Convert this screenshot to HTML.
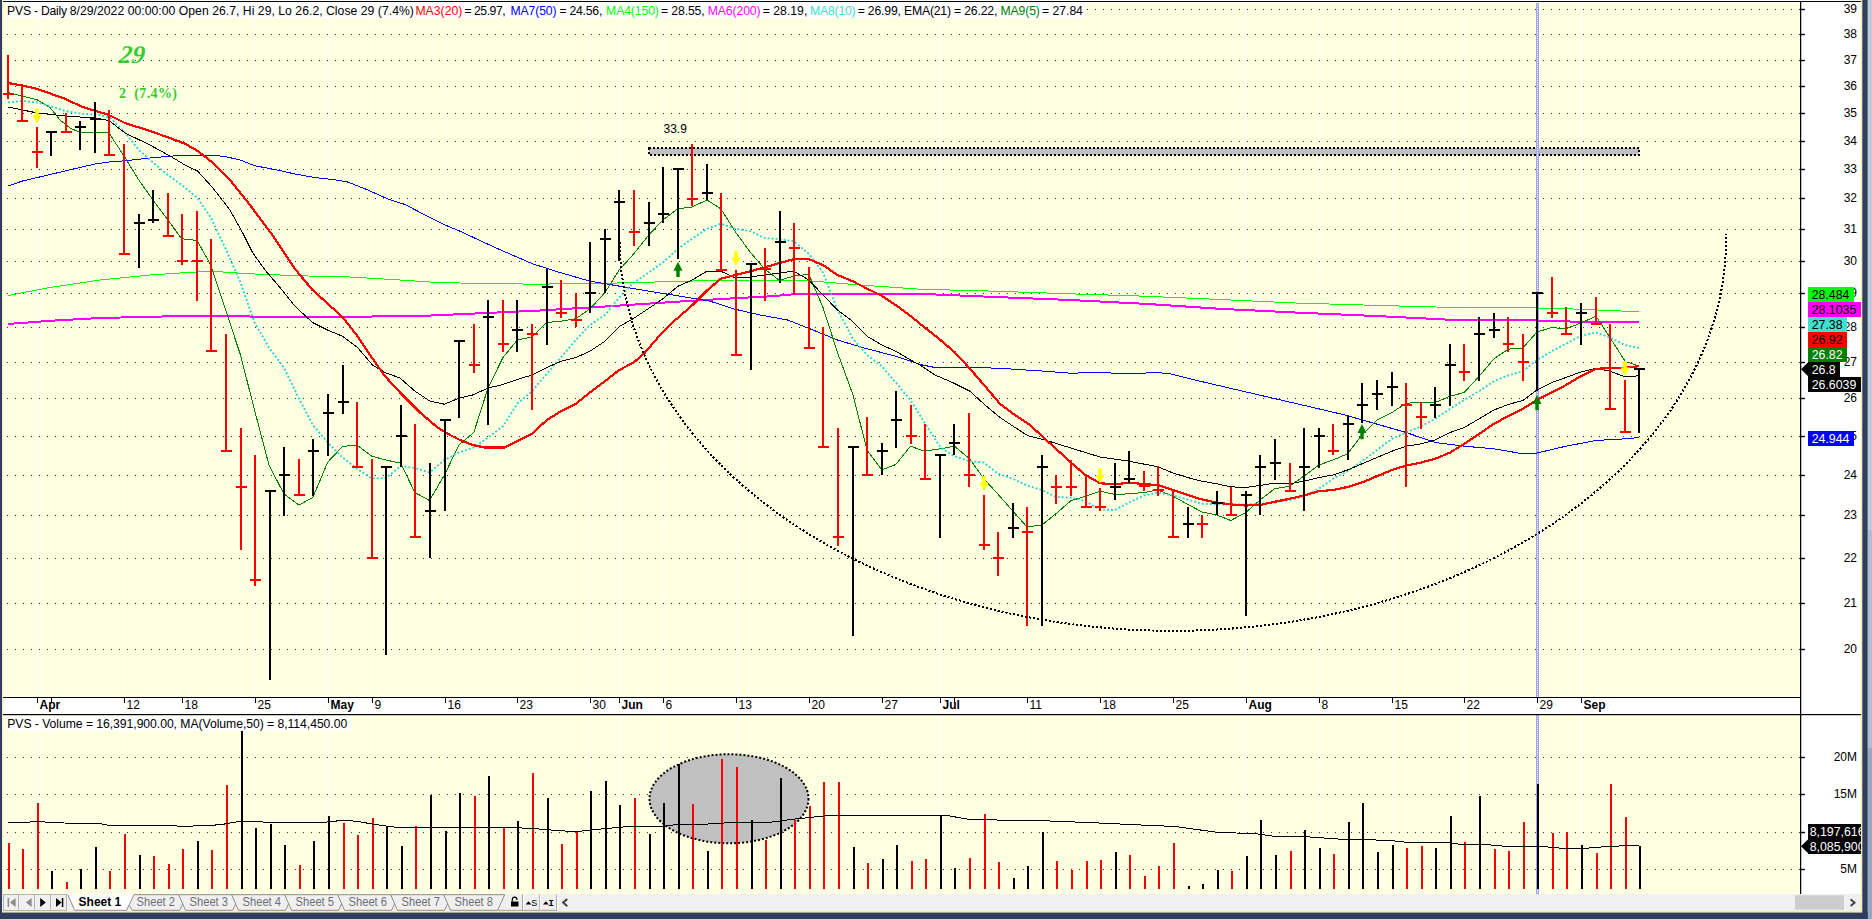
<!DOCTYPE html>
<html><head><meta charset="utf-8"><title>PVS</title>
<style>
html,body{margin:0;padding:0;background:#FFFFE1;overflow:hidden}
body{width:1872px;height:919px;position:relative;font-family:"Liberation Sans",sans-serif}
svg{position:absolute;left:0;top:0}
text{font-family:"Liberation Sans",sans-serif;font-size:12px}
.ser{font-family:"Liberation Serif",serif}
</style></head><body>
<svg width="1872" height="919" viewBox="0 0 1872 919">
<rect x="0" y="0" width="1872" height="919" fill="#FFFFE1"/>
<rect x="3" y="0" width="1" height="894" fill="#FFFFFF"/>
<rect x="1801" y="1" width="60.5" height="893" fill="#FFFFFF"/>
<rect x="3" y="698" width="1798" height="16.5" fill="#FFFFFF"/>
<g shape-rendering="crispEdges">
<rect x="37" y="3" width="1" height="694" fill="#FFFFFF"/>
<rect x="37" y="715" width="1" height="178" fill="#FFFFFF"/>
<line x1="51.5" y1="3" x2="51.5" y2="697" stroke="#FFFFFF" stroke-width="1" stroke-dasharray="1 1"/>
<line x1="51.5" y1="715" x2="51.5" y2="893" stroke="#FFFFFF" stroke-width="1" stroke-dasharray="1 1"/>
<line x1="124.5" y1="3" x2="124.5" y2="697" stroke="#FFFFFF" stroke-width="1" stroke-dasharray="1 1"/>
<line x1="124.5" y1="715" x2="124.5" y2="893" stroke="#FFFFFF" stroke-width="1" stroke-dasharray="1 1"/>
<line x1="182.5" y1="3" x2="182.5" y2="697" stroke="#FFFFFF" stroke-width="1" stroke-dasharray="1 1"/>
<line x1="182.5" y1="715" x2="182.5" y2="893" stroke="#FFFFFF" stroke-width="1" stroke-dasharray="1 1"/>
<line x1="255.5" y1="3" x2="255.5" y2="697" stroke="#FFFFFF" stroke-width="1" stroke-dasharray="1 1"/>
<line x1="255.5" y1="715" x2="255.5" y2="893" stroke="#FFFFFF" stroke-width="1" stroke-dasharray="1 1"/>
<rect x="328" y="3" width="1" height="694" fill="#FFFFFF"/>
<rect x="328" y="715" width="1" height="178" fill="#FFFFFF"/>
<line x1="372.5" y1="3" x2="372.5" y2="697" stroke="#FFFFFF" stroke-width="1" stroke-dasharray="1 1"/>
<line x1="372.5" y1="715" x2="372.5" y2="893" stroke="#FFFFFF" stroke-width="1" stroke-dasharray="1 1"/>
<line x1="445.5" y1="3" x2="445.5" y2="697" stroke="#FFFFFF" stroke-width="1" stroke-dasharray="1 1"/>
<line x1="445.5" y1="715" x2="445.5" y2="893" stroke="#FFFFFF" stroke-width="1" stroke-dasharray="1 1"/>
<line x1="517.5" y1="3" x2="517.5" y2="697" stroke="#FFFFFF" stroke-width="1" stroke-dasharray="1 1"/>
<line x1="517.5" y1="715" x2="517.5" y2="893" stroke="#FFFFFF" stroke-width="1" stroke-dasharray="1 1"/>
<line x1="590.5" y1="3" x2="590.5" y2="697" stroke="#FFFFFF" stroke-width="1" stroke-dasharray="1 1"/>
<line x1="590.5" y1="715" x2="590.5" y2="893" stroke="#FFFFFF" stroke-width="1" stroke-dasharray="1 1"/>
<rect x="619" y="3" width="1" height="694" fill="#FFFFFF"/>
<rect x="619" y="715" width="1" height="178" fill="#FFFFFF"/>
<line x1="663.5" y1="3" x2="663.5" y2="697" stroke="#FFFFFF" stroke-width="1" stroke-dasharray="1 1"/>
<line x1="663.5" y1="715" x2="663.5" y2="893" stroke="#FFFFFF" stroke-width="1" stroke-dasharray="1 1"/>
<line x1="736.5" y1="3" x2="736.5" y2="697" stroke="#FFFFFF" stroke-width="1" stroke-dasharray="1 1"/>
<line x1="736.5" y1="715" x2="736.5" y2="893" stroke="#FFFFFF" stroke-width="1" stroke-dasharray="1 1"/>
<line x1="809.5" y1="3" x2="809.5" y2="697" stroke="#FFFFFF" stroke-width="1" stroke-dasharray="1 1"/>
<line x1="809.5" y1="715" x2="809.5" y2="893" stroke="#FFFFFF" stroke-width="1" stroke-dasharray="1 1"/>
<line x1="882.5" y1="3" x2="882.5" y2="697" stroke="#FFFFFF" stroke-width="1" stroke-dasharray="1 1"/>
<line x1="882.5" y1="715" x2="882.5" y2="893" stroke="#FFFFFF" stroke-width="1" stroke-dasharray="1 1"/>
<rect x="940" y="3" width="1" height="694" fill="#FFFFFF"/>
<rect x="940" y="715" width="1" height="178" fill="#FFFFFF"/>
<line x1="954.5" y1="3" x2="954.5" y2="697" stroke="#FFFFFF" stroke-width="1" stroke-dasharray="1 1"/>
<line x1="954.5" y1="715" x2="954.5" y2="893" stroke="#FFFFFF" stroke-width="1" stroke-dasharray="1 1"/>
<line x1="1027.5" y1="3" x2="1027.5" y2="697" stroke="#FFFFFF" stroke-width="1" stroke-dasharray="1 1"/>
<line x1="1027.5" y1="715" x2="1027.5" y2="893" stroke="#FFFFFF" stroke-width="1" stroke-dasharray="1 1"/>
<line x1="1100.5" y1="3" x2="1100.5" y2="697" stroke="#FFFFFF" stroke-width="1" stroke-dasharray="1 1"/>
<line x1="1100.5" y1="715" x2="1100.5" y2="893" stroke="#FFFFFF" stroke-width="1" stroke-dasharray="1 1"/>
<line x1="1173.5" y1="3" x2="1173.5" y2="697" stroke="#FFFFFF" stroke-width="1" stroke-dasharray="1 1"/>
<line x1="1173.5" y1="715" x2="1173.5" y2="893" stroke="#FFFFFF" stroke-width="1" stroke-dasharray="1 1"/>
<rect x="1246" y="3" width="1" height="694" fill="#FFFFFF"/>
<rect x="1246" y="715" width="1" height="178" fill="#FFFFFF"/>
<line x1="1319.5" y1="3" x2="1319.5" y2="697" stroke="#FFFFFF" stroke-width="1" stroke-dasharray="1 1"/>
<line x1="1319.5" y1="715" x2="1319.5" y2="893" stroke="#FFFFFF" stroke-width="1" stroke-dasharray="1 1"/>
<line x1="1392.5" y1="3" x2="1392.5" y2="697" stroke="#FFFFFF" stroke-width="1" stroke-dasharray="1 1"/>
<line x1="1392.5" y1="715" x2="1392.5" y2="893" stroke="#FFFFFF" stroke-width="1" stroke-dasharray="1 1"/>
<line x1="1464.5" y1="3" x2="1464.5" y2="697" stroke="#FFFFFF" stroke-width="1" stroke-dasharray="1 1"/>
<line x1="1464.5" y1="715" x2="1464.5" y2="893" stroke="#FFFFFF" stroke-width="1" stroke-dasharray="1 1"/>
<line x1="1537.5" y1="3" x2="1537.5" y2="697" stroke="#FFFFFF" stroke-width="1" stroke-dasharray="1 1"/>
<line x1="1537.5" y1="715" x2="1537.5" y2="893" stroke="#FFFFFF" stroke-width="1" stroke-dasharray="1 1"/>
<rect x="1581" y="3" width="1" height="694" fill="#FFFFFF"/>
<rect x="1581" y="715" width="1" height="178" fill="#FFFFFF"/>
<line x1="7" y1="9.5" x2="1800" y2="9.5" stroke="#303030" stroke-width="1" stroke-dasharray="1 7"/>
<line x1="7" y1="34.5" x2="1800" y2="34.5" stroke="#303030" stroke-width="1" stroke-dasharray="1 7"/>
<line x1="7" y1="60.5" x2="1800" y2="60.5" stroke="#303030" stroke-width="1" stroke-dasharray="1 7"/>
<line x1="7" y1="86.5" x2="1800" y2="86.5" stroke="#303030" stroke-width="1" stroke-dasharray="1 7"/>
<line x1="7" y1="113.5" x2="1800" y2="113.5" stroke="#303030" stroke-width="1" stroke-dasharray="1 7"/>
<line x1="7" y1="141.5" x2="1800" y2="141.5" stroke="#303030" stroke-width="1" stroke-dasharray="1 7"/>
<line x1="7" y1="169.5" x2="1800" y2="169.5" stroke="#303030" stroke-width="1" stroke-dasharray="1 7"/>
<line x1="7" y1="198.5" x2="1800" y2="198.5" stroke="#303030" stroke-width="1" stroke-dasharray="1 7"/>
<line x1="7" y1="229.5" x2="1800" y2="229.5" stroke="#303030" stroke-width="1" stroke-dasharray="1 7"/>
<line x1="7" y1="261.5" x2="1800" y2="261.5" stroke="#303030" stroke-width="1" stroke-dasharray="1 7"/>
<line x1="7" y1="293.5" x2="1800" y2="293.5" stroke="#303030" stroke-width="1" stroke-dasharray="1 7"/>
<line x1="7" y1="327.5" x2="1800" y2="327.5" stroke="#303030" stroke-width="1" stroke-dasharray="1 7"/>
<line x1="7" y1="362.5" x2="1800" y2="362.5" stroke="#303030" stroke-width="1" stroke-dasharray="1 7"/>
<line x1="7" y1="398.5" x2="1800" y2="398.5" stroke="#303030" stroke-width="1" stroke-dasharray="1 7"/>
<line x1="7" y1="436.5" x2="1800" y2="436.5" stroke="#303030" stroke-width="1" stroke-dasharray="1 7"/>
<line x1="7" y1="475.5" x2="1800" y2="475.5" stroke="#303030" stroke-width="1" stroke-dasharray="1 7"/>
<line x1="7" y1="515.5" x2="1800" y2="515.5" stroke="#303030" stroke-width="1" stroke-dasharray="1 7"/>
<line x1="7" y1="558.5" x2="1800" y2="558.5" stroke="#303030" stroke-width="1" stroke-dasharray="1 7"/>
<line x1="7" y1="603.5" x2="1800" y2="603.5" stroke="#303030" stroke-width="1" stroke-dasharray="1 7"/>
<line x1="7" y1="649.5" x2="1800" y2="649.5" stroke="#303030" stroke-width="1" stroke-dasharray="1 7"/>
<line x1="7" y1="757.5" x2="1800" y2="757.5" stroke="#303030" stroke-width="1" stroke-dasharray="1 7"/>
<line x1="7" y1="794.5" x2="1800" y2="794.5" stroke="#303030" stroke-width="1" stroke-dasharray="1 7"/>
<line x1="7" y1="832.5" x2="1800" y2="832.5" stroke="#303030" stroke-width="1" stroke-dasharray="1 7"/>
<line x1="7" y1="869.5" x2="1800" y2="869.5" stroke="#303030" stroke-width="1" stroke-dasharray="1 7"/>
</g>
<rect x="649" y="148" width="990" height="7" fill="#C0C0C0"/>
<rect x="649" y="148" width="990" height="7" fill="none" stroke="#000" stroke-width="2" stroke-dasharray="2 2" shape-rendering="crispEdges"/>
<text x="663.5" y="133" fill="#000">33.9</text>
<ellipse cx="729" cy="798.75" rx="79.5" ry="44.5" fill="#C0C0C0"/>
<ellipse cx="729" cy="798.75" rx="79.5" ry="44.5" fill="none" stroke="#000" stroke-width="2" stroke-dasharray="2 2"/>
<rect x="1536" y="3" width="3" height="694" fill="#A0A0FF"/>
<rect x="1536" y="715" width="3" height="179" fill="#A0A0FF"/>
<line x1="1537.5" y1="4" x2="1537.5" y2="697" stroke="#FFFFFF" stroke-width="1.2" stroke-dasharray="1 1" shape-rendering="crispEdges"/>
<line x1="1537.5" y1="716" x2="1537.5" y2="894" stroke="#FFFFFF" stroke-width="1.2" stroke-dasharray="1 1" shape-rendering="crispEdges"/>
<polyline points="8.0,295.5 50.0,287.5 100.0,280.0 150.0,275.0 187.5,272.5 210.8,271.2 250.0,273.8 300.0,275.8 350.0,277.0 400.0,280.0 437.5,282.5 460.0,283.0 535.0,284.2 610.0,283.2 685.0,281.2 735.0,280.0 810.0,280.8 860.0,285.0 920.0,289.2 995.0,291.2 1070.0,293.8 1145.0,296.2 1220.0,299.5 1295.0,303.0 1380.0,305.5 1455.0,307.5 1537.0,308.0 1580.0,309.2 1639.0,311.8" fill="none" stroke="#00FF00" stroke-width="1" stroke-linejoin="round" shape-rendering="crispEdges" />
<polyline points="8.0,324.0 50.0,320.8 100.0,318.0 175.0,316.2 250.0,316.5 350.0,316.8 425.0,315.8 460.0,314.2 535.0,310.8 610.0,306.2 685.0,301.2 735.0,298.2 772.5,296.2 793.8,294.2 835.0,293.8 920.0,293.8 995.0,297.0 1070.0,300.0 1145.0,303.8 1220.0,308.8 1295.0,312.5 1380.0,316.2 1455.0,320.0 1537.0,320.5 1580.0,321.8 1639.0,322.5" fill="none" stroke="#FF00FF" stroke-width="2" stroke-linejoin="round" shape-rendering="crispEdges" />
<polyline points="8.0,186.0 22.5,181.0 37.5,177.5 65.0,171.0 95.0,164.0 110.0,161.8 125.0,160.8 150.0,158.0 175.0,155.8 195.0,155.2 212.5,155.2 225.0,156.5 240.0,160.0 255.0,165.8 275.0,169.5 295.0,174.0 315.0,177.5 332.5,179.5 347.5,182.0 365.0,188.8 387.5,198.8 405.0,204.5 425.0,215.0 445.0,225.0 460.0,231.2 495.0,247.5 532.5,263.8 560.0,272.5 590.0,281.2 635.0,288.8 672.5,295.0 710.0,301.2 735.0,309.2 760.0,315.0 787.5,320.0 810.0,328.8 837.5,340.0 867.0,348.8 895.8,356.2 920.0,364.5 935.0,367.5 970.0,367.0 1007.5,368.8 1045.0,371.2 1070.0,373.2 1100.0,372.5 1127.5,373.8 1157.5,372.5 1170.0,373.8 1195.0,380.0 1232.5,388.8 1270.0,397.5 1307.5,406.2 1345.0,415.0 1380.0,425.0 1406.2,432.5 1435.2,442.5 1464.2,446.2 1494.0,448.8 1522.8,453.8 1537.0,453.0 1566.0,446.2 1596.0,440.5 1625.0,438.8 1639.0,437.5" fill="none" stroke="#0000FF" stroke-width="1" stroke-linejoin="round" shape-rendering="crispEdges" />
<polyline points="8.0,92.5 22.5,96.0 37.5,100.0 50.0,107.5 60.0,120.0 70.0,128.0 80.0,132.5 94.8,132.0 109.0,133.0 124.0,156.0 138.8,180.0 153.0,200.0 167.8,220.0 181.8,238.8 197.0,240.5 210.8,265.0 226.0,311.2 240.5,355.0 254.5,410.0 269.0,465.0 283.8,493.8 299.0,505.0 312.8,497.5 327.8,462.0 342.5,446.5 356.8,445.0 371.8,456.2 385.8,460.0 400.8,463.2 414.8,492.5 429.5,500.5 444.5,475.0 458.8,445.0 473.8,432.5 488.2,387.5 503.0,357.5 517.2,340.0 532.0,337.0 546.8,322.5 561.0,321.2 575.8,318.8 590.0,308.8 605.0,292.5 619.2,270.0 633.8,253.8 648.8,235.0 662.8,220.0 678.0,208.8 692.0,207.0 707.0,200.0 720.8,208.8 735.8,232.5 750.5,252.5 764.5,268.8 779.5,280.5 793.8,276.0 808.8,274.3 823.0,307.5 837.5,352.5 853.0,395.0 867.0,450.0 881.8,470.0 895.8,464.5 910.5,446.2 924.5,451.2 940.5,448.8 954.5,446.2 969.5,458.8 984.0,478.8 998.2,494.5 1013.0,511.2 1027.0,527.0 1042.0,525.0 1055.8,513.8 1070.8,500.8 1085.5,496.2 1100.0,491.2 1115.0,494.5 1129.0,493.8 1143.8,492.5 1158.0,490.0 1173.0,496.2 1187.5,504.2 1202.0,512.0 1216.8,515.0 1230.8,520.5 1245.8,512.5 1260.0,500.0 1274.5,488.8 1289.5,486.2 1303.8,476.2 1318.8,465.0 1333.0,460.0 1347.5,453.8 1362.0,435.0 1377.0,420.0 1392.0,412.5 1406.2,403.2 1421.2,402.5 1435.2,402.5 1450.2,396.2 1464.2,392.5 1479.2,376.2 1494.0,358.8 1508.0,349.2 1522.8,348.0 1537.0,332.0 1551.8,327.5 1566.0,328.8 1580.8,323.0 1596.0,316.2 1610.0,337.5 1625.0,361.2 1639.0,366.2" fill="none" stroke="#008000" stroke-width="1" stroke-linejoin="round" shape-rendering="crispEdges" />
<polyline points="8.0,102.5 22.5,101.0 37.5,102.5 50.0,106.0 65.0,111.0 82.5,113.8 100.0,115.0 110.0,117.5 125.0,132.5 138.8,150.0 153.0,162.5 167.8,175.0 181.8,185.0 197.0,197.5 210.8,217.5 226.2,250.0 240.5,282.5 254.5,322.5 269.0,347.5 283.8,367.5 298.5,397.5 312.8,425.0 327.8,442.5 342.5,457.5 356.8,468.5 371.8,478.5 385.8,478.0 400.8,466.0 414.8,468.0 429.5,472.5 444.5,460.0 458.8,452.5 473.8,447.5 488.2,437.5 503.0,426.2 517.2,403.8 532.0,391.2 546.8,373.8 561.0,357.5 575.8,340.0 590.0,325.0 605.0,315.0 619.2,297.5 633.8,282.5 648.8,272.5 662.8,262.5 678.0,248.8 692.0,238.8 707.0,228.8 720.8,223.8 735.8,228.8 750.5,231.2 764.5,238.0 779.5,239.2 793.8,241.2 808.8,253.8 823.0,272.5 837.5,310.0 853.0,338.8 867.0,355.0 881.8,366.2 895.8,382.5 910.5,400.0 927.5,427.5 940.5,447.5 954.5,456.2 969.5,461.2 984.0,462.5 998.2,473.8 1013.0,478.8 1027.0,485.5 1042.0,490.0 1055.8,497.0 1070.8,497.5 1085.5,501.2 1100.0,509.5 1115.0,510.0 1129.0,502.5 1143.8,495.5 1158.0,492.5 1173.0,495.5 1187.5,499.5 1202.0,503.8 1216.8,504.2 1230.8,504.2 1245.8,504.5 1260.0,503.8 1274.5,502.5 1289.5,500.0 1303.8,496.2 1318.8,488.8 1333.0,478.8 1347.5,471.2 1362.0,461.2 1377.0,450.0 1392.0,438.8 1406.2,432.5 1421.2,426.2 1435.2,418.8 1450.2,408.8 1464.2,400.0 1479.2,391.2 1494.0,381.2 1508.0,375.5 1522.8,371.2 1537.0,360.0 1551.8,351.2 1566.0,343.8 1580.8,335.8 1596.0,332.5 1610.0,337.5 1625.0,345.0 1639.0,348.0" fill="none" stroke="#30D0D8" stroke-width="1.9" stroke-linejoin="round" shape-rendering="auto" stroke-dasharray="2 2"/>
<polyline points="8.0,107.0 22.5,110.0 37.5,113.0 65.0,116.0 95.0,118.0 109.0,120.5 125.0,133.0 150.0,145.0 170.0,156.0 185.0,165.0 197.5,171.0 212.5,187.5 230.0,210.0 242.5,232.5 252.5,252.5 265.0,270.0 280.0,287.5 295.0,306.2 312.5,322.5 327.5,330.0 342.5,336.2 357.5,347.5 372.5,365.0 385.0,372.5 400.0,378.0 415.0,391.2 430.0,401.2 444.5,404.2 458.8,398.2 472.5,395.0 488.2,388.0 503.0,384.5 517.2,379.5 532.0,375.0 546.8,367.5 561.0,361.2 575.8,357.5 590.0,351.2 605.0,341.2 620.0,326.2 635.0,317.5 650.0,307.5 662.8,298.8 678.0,286.2 692.0,280.0 707.0,271.2 720.8,271.2 735.8,278.0 750.5,277.0 764.5,275.0 779.5,273.0 793.8,271.2 808.8,280.0 823.0,295.0 837.5,310.0 852.5,321.2 867.0,336.2 881.8,345.0 895.8,351.2 910.5,360.0 920.0,365.0 935.0,375.0 952.5,382.5 970.0,391.2 985.0,405.0 1000.0,417.5 1015.0,427.5 1027.5,435.5 1045.0,440.0 1070.8,448.0 1100.0,457.0 1129.0,461.2 1158.0,466.8 1173.0,473.0 1187.5,477.5 1202.0,481.2 1216.8,483.8 1230.8,486.8 1245.8,487.5 1260.0,485.5 1274.5,483.2 1289.5,483.8 1303.8,481.2 1318.8,477.5 1333.0,475.0 1347.5,470.0 1362.0,463.8 1377.0,457.5 1392.0,451.2 1406.2,446.2 1421.2,443.8 1435.2,440.0 1450.2,432.5 1464.2,427.5 1479.2,418.8 1494.0,410.0 1508.0,404.5 1522.8,400.5 1537.0,390.0 1551.8,382.5 1566.0,377.5 1580.8,372.0 1596.0,368.2 1610.0,371.2 1625.0,376.8 1639.0,375.8" fill="none" stroke="#000" stroke-width="1" stroke-linejoin="round" shape-rendering="crispEdges" />
<polyline points="8.0,83.0 22.5,85.5 37.5,89.0 65.0,98.8 82.5,107.0 109.0,115.0 125.0,123.0 150.0,131.0 170.0,138.0 185.0,143.8 197.5,150.8 212.5,162.5 230.0,180.0 250.0,205.0 272.5,235.0 295.0,268.8 300.0,275.0 312.5,290.0 325.0,301.2 342.5,317.0 357.5,336.2 370.0,355.0 385.0,376.2 400.0,392.5 420.0,412.5 437.5,427.5 450.0,435.0 460.0,440.0 472.5,445.0 485.0,447.5 505.0,447.5 532.0,433.8 546.8,420.0 561.0,411.2 575.8,403.8 590.0,392.5 605.0,381.2 619.2,370.0 633.8,362.5 645.0,352.5 660.0,335.0 672.5,322.5 692.5,305.0 707.5,290.0 720.8,278.8 735.8,275.0 750.5,271.2 764.5,267.5 779.5,263.0 793.8,259.2 808.8,259.2 823.0,265.0 837.5,275.0 852.5,281.2 867.5,288.8 882.5,296.2 897.5,306.2 912.5,317.5 920.0,323.8 937.5,337.5 955.0,352.5 970.0,368.8 985.0,386.2 1000.0,403.8 1015.0,415.0 1030.0,425.0 1047.5,441.2 1060.0,452.5 1070.8,462.5 1085.5,475.0 1100.0,483.2 1115.0,484.5 1129.0,482.5 1143.8,484.2 1158.0,485.0 1173.0,490.0 1187.5,495.0 1202.0,499.5 1216.8,502.5 1230.8,504.5 1245.8,505.5 1260.0,505.0 1274.5,501.8 1289.5,498.8 1303.8,495.5 1318.8,491.2 1333.0,490.0 1347.5,487.0 1362.0,482.5 1377.0,476.2 1392.0,470.0 1406.2,465.5 1421.2,462.5 1435.2,458.8 1450.2,452.5 1464.2,443.8 1479.2,433.8 1494.0,423.8 1508.0,416.2 1522.8,408.8 1537.0,400.0 1551.8,392.5 1566.0,385.0 1580.8,376.2 1596.0,368.8 1610.0,368.2 1625.0,367.5 1639.0,366.2" fill="none" stroke="#FF0000" stroke-width="2.2" stroke-linejoin="round" shape-rendering="crispEdges" />
<g shape-rendering="crispEdges">
<rect x="7" y="55" width="2" height="44" fill="#FF0000"/>
<rect x="3" y="93" width="11" height="2" fill="#FF0000"/>
<rect x="21" y="85" width="2" height="37" fill="#FF0000"/>
<rect x="17" y="120" width="11" height="2" fill="#FF0000"/>
<rect x="36" y="127" width="2" height="41" fill="#FF0000"/>
<rect x="32" y="151" width="11" height="2" fill="#FF0000"/>
<rect x="50" y="131" width="2" height="25" fill="#000000"/>
<rect x="46" y="131" width="11" height="2" fill="#000000"/>
<rect x="65" y="113" width="2" height="20" fill="#FF0000"/>
<rect x="61" y="131" width="11" height="2" fill="#FF0000"/>
<rect x="79" y="121" width="2" height="29" fill="#000000"/>
<rect x="75" y="126" width="11" height="2" fill="#000000"/>
<rect x="94" y="102" width="2" height="51" fill="#000000"/>
<rect x="90" y="118" width="11" height="2" fill="#000000"/>
<rect x="108" y="110" width="2" height="46" fill="#FF0000"/>
<rect x="104" y="154" width="11" height="2" fill="#FF0000"/>
<rect x="123" y="144" width="2" height="111" fill="#FF0000"/>
<rect x="119" y="253" width="11" height="2" fill="#FF0000"/>
<rect x="138" y="214" width="2" height="54" fill="#000000"/>
<rect x="134" y="222" width="11" height="2" fill="#000000"/>
<rect x="152" y="190" width="2" height="33" fill="#000000"/>
<rect x="148" y="219" width="11" height="2" fill="#000000"/>
<rect x="167" y="193" width="2" height="44" fill="#FF0000"/>
<rect x="163" y="235" width="11" height="2" fill="#FF0000"/>
<rect x="181" y="214" width="2" height="51" fill="#FF0000"/>
<rect x="177" y="260" width="11" height="2" fill="#FF0000"/>
<rect x="196" y="211" width="2" height="90" fill="#FF0000"/>
<rect x="192" y="260" width="11" height="2" fill="#FF0000"/>
<rect x="210" y="239" width="2" height="113" fill="#FF0000"/>
<rect x="206" y="350" width="11" height="2" fill="#FF0000"/>
<rect x="225" y="334" width="2" height="118" fill="#FF0000"/>
<rect x="221" y="450" width="11" height="2" fill="#FF0000"/>
<rect x="240" y="428" width="2" height="122" fill="#FF0000"/>
<rect x="236" y="486" width="11" height="2" fill="#FF0000"/>
<rect x="254" y="455" width="2" height="131" fill="#FF0000"/>
<rect x="250" y="579" width="11" height="2" fill="#FF0000"/>
<rect x="269" y="490" width="2" height="190" fill="#000000"/>
<rect x="265" y="490" width="11" height="2" fill="#000000"/>
<rect x="283" y="447" width="2" height="69" fill="#000000"/>
<rect x="279" y="474" width="11" height="2" fill="#000000"/>
<rect x="298" y="459" width="2" height="37" fill="#FF0000"/>
<rect x="294" y="494" width="11" height="2" fill="#FF0000"/>
<rect x="312" y="439" width="2" height="57" fill="#000000"/>
<rect x="308" y="450" width="11" height="2" fill="#000000"/>
<rect x="327" y="394" width="2" height="62" fill="#000000"/>
<rect x="323" y="412" width="11" height="2" fill="#000000"/>
<rect x="342" y="365" width="2" height="49" fill="#000000"/>
<rect x="338" y="401" width="11" height="2" fill="#000000"/>
<rect x="356" y="402" width="2" height="66" fill="#FF0000"/>
<rect x="352" y="466" width="11" height="2" fill="#FF0000"/>
<rect x="371" y="459" width="2" height="100" fill="#FF0000"/>
<rect x="367" y="557" width="11" height="2" fill="#FF0000"/>
<rect x="385" y="466" width="2" height="189" fill="#000000"/>
<rect x="381" y="466" width="11" height="2" fill="#000000"/>
<rect x="400" y="405" width="2" height="62" fill="#000000"/>
<rect x="396" y="435" width="11" height="2" fill="#000000"/>
<rect x="414" y="424" width="2" height="114" fill="#FF0000"/>
<rect x="410" y="536" width="11" height="2" fill="#FF0000"/>
<rect x="429" y="463" width="2" height="95" fill="#000000"/>
<rect x="425" y="510" width="11" height="2" fill="#000000"/>
<rect x="444" y="419" width="2" height="92" fill="#000000"/>
<rect x="440" y="419" width="11" height="2" fill="#000000"/>
<rect x="458" y="340" width="2" height="78" fill="#000000"/>
<rect x="454" y="340" width="11" height="2" fill="#000000"/>
<rect x="473" y="324" width="2" height="49" fill="#FF0000"/>
<rect x="469" y="364" width="11" height="2" fill="#FF0000"/>
<rect x="487" y="300" width="2" height="125" fill="#000000"/>
<rect x="483" y="316" width="11" height="2" fill="#000000"/>
<rect x="502" y="300" width="2" height="52" fill="#FF0000"/>
<rect x="498" y="343" width="11" height="2" fill="#FF0000"/>
<rect x="516" y="300" width="2" height="52" fill="#000000"/>
<rect x="512" y="329" width="11" height="2" fill="#000000"/>
<rect x="531" y="324" width="2" height="86" fill="#FF0000"/>
<rect x="527" y="333" width="11" height="2" fill="#FF0000"/>
<rect x="546" y="269" width="2" height="76" fill="#000000"/>
<rect x="542" y="286" width="11" height="2" fill="#000000"/>
<rect x="560" y="280" width="2" height="38" fill="#FF0000"/>
<rect x="556" y="312" width="11" height="2" fill="#FF0000"/>
<rect x="575" y="293" width="2" height="34" fill="#FF0000"/>
<rect x="571" y="319" width="11" height="2" fill="#FF0000"/>
<rect x="589" y="242" width="2" height="71" fill="#000000"/>
<rect x="585" y="292" width="11" height="2" fill="#000000"/>
<rect x="604" y="229" width="2" height="64" fill="#000000"/>
<rect x="600" y="238" width="11" height="2" fill="#000000"/>
<rect x="618" y="190" width="2" height="71" fill="#000000"/>
<rect x="614" y="201" width="11" height="2" fill="#000000"/>
<rect x="633" y="190" width="2" height="56" fill="#FF0000"/>
<rect x="629" y="231" width="11" height="2" fill="#FF0000"/>
<rect x="648" y="202" width="2" height="44" fill="#000000"/>
<rect x="644" y="222" width="11" height="2" fill="#000000"/>
<rect x="662" y="167" width="2" height="56" fill="#000000"/>
<rect x="658" y="213" width="11" height="2" fill="#000000"/>
<rect x="677" y="168" width="2" height="91" fill="#000000"/>
<rect x="673" y="168" width="11" height="2" fill="#000000"/>
<rect x="691" y="144" width="2" height="62" fill="#FF0000"/>
<rect x="687" y="198" width="11" height="2" fill="#FF0000"/>
<rect x="706" y="164" width="2" height="36" fill="#000000"/>
<rect x="702" y="192" width="11" height="2" fill="#000000"/>
<rect x="720" y="193" width="2" height="78" fill="#FF0000"/>
<rect x="716" y="269" width="11" height="2" fill="#FF0000"/>
<rect x="735" y="270" width="2" height="86" fill="#FF0000"/>
<rect x="731" y="354" width="11" height="2" fill="#FF0000"/>
<rect x="750" y="263" width="2" height="107" fill="#000000"/>
<rect x="746" y="263" width="11" height="2" fill="#000000"/>
<rect x="764" y="248" width="2" height="53" fill="#FF0000"/>
<rect x="760" y="268" width="11" height="2" fill="#FF0000"/>
<rect x="779" y="211" width="2" height="72" fill="#000000"/>
<rect x="775" y="241" width="11" height="2" fill="#000000"/>
<rect x="793" y="223" width="2" height="72" fill="#FF0000"/>
<rect x="789" y="247" width="11" height="2" fill="#FF0000"/>
<rect x="808" y="267" width="2" height="82" fill="#FF0000"/>
<rect x="804" y="347" width="11" height="2" fill="#FF0000"/>
<rect x="822" y="327" width="2" height="121" fill="#FF0000"/>
<rect x="818" y="446" width="11" height="2" fill="#FF0000"/>
<rect x="837" y="428" width="2" height="118" fill="#FF0000"/>
<rect x="833" y="536" width="11" height="2" fill="#FF0000"/>
<rect x="852" y="446" width="2" height="190" fill="#000000"/>
<rect x="848" y="446" width="11" height="2" fill="#000000"/>
<rect x="866" y="417" width="2" height="59" fill="#FF0000"/>
<rect x="862" y="474" width="11" height="2" fill="#FF0000"/>
<rect x="881" y="443" width="2" height="32" fill="#000000"/>
<rect x="877" y="450" width="11" height="2" fill="#000000"/>
<rect x="895" y="391" width="2" height="57" fill="#000000"/>
<rect x="891" y="419" width="11" height="2" fill="#000000"/>
<rect x="910" y="405" width="2" height="39" fill="#FF0000"/>
<rect x="906" y="435" width="11" height="2" fill="#FF0000"/>
<rect x="924" y="424" width="2" height="56" fill="#FF0000"/>
<rect x="920" y="478" width="11" height="2" fill="#FF0000"/>
<rect x="939" y="454" width="2" height="84" fill="#000000"/>
<rect x="935" y="454" width="11" height="2" fill="#000000"/>
<rect x="953" y="424" width="2" height="31" fill="#000000"/>
<rect x="949" y="442" width="11" height="2" fill="#000000"/>
<rect x="968" y="413" width="2" height="74" fill="#FF0000"/>
<rect x="964" y="474" width="11" height="2" fill="#FF0000"/>
<rect x="983" y="495" width="2" height="55" fill="#FF0000"/>
<rect x="979" y="544" width="11" height="2" fill="#FF0000"/>
<rect x="997" y="532" width="2" height="44" fill="#FF0000"/>
<rect x="993" y="557" width="11" height="2" fill="#FF0000"/>
<rect x="1012" y="503" width="2" height="35" fill="#000000"/>
<rect x="1008" y="527" width="11" height="2" fill="#000000"/>
<rect x="1026" y="507" width="2" height="119" fill="#FF0000"/>
<rect x="1022" y="531" width="11" height="2" fill="#FF0000"/>
<rect x="1041" y="455" width="2" height="171" fill="#000000"/>
<rect x="1037" y="466" width="11" height="2" fill="#000000"/>
<rect x="1055" y="475" width="2" height="29" fill="#FF0000"/>
<rect x="1051" y="486" width="11" height="2" fill="#FF0000"/>
<rect x="1070" y="460" width="2" height="36" fill="#FF0000"/>
<rect x="1066" y="486" width="11" height="2" fill="#FF0000"/>
<rect x="1085" y="475" width="2" height="33" fill="#FF0000"/>
<rect x="1081" y="506" width="11" height="2" fill="#FF0000"/>
<rect x="1099" y="488" width="2" height="23" fill="#FF0000"/>
<rect x="1095" y="506" width="11" height="2" fill="#FF0000"/>
<rect x="1114" y="463" width="2" height="37" fill="#000000"/>
<rect x="1110" y="486" width="11" height="2" fill="#000000"/>
<rect x="1128" y="451" width="2" height="32" fill="#000000"/>
<rect x="1124" y="478" width="11" height="2" fill="#000000"/>
<rect x="1143" y="471" width="2" height="20" fill="#FF0000"/>
<rect x="1139" y="485" width="11" height="2" fill="#FF0000"/>
<rect x="1157" y="466" width="2" height="30" fill="#FF0000"/>
<rect x="1153" y="489" width="11" height="2" fill="#FF0000"/>
<rect x="1172" y="490" width="2" height="48" fill="#FF0000"/>
<rect x="1168" y="536" width="11" height="2" fill="#FF0000"/>
<rect x="1187" y="507" width="2" height="31" fill="#000000"/>
<rect x="1183" y="523" width="11" height="2" fill="#000000"/>
<rect x="1201" y="515" width="2" height="23" fill="#FF0000"/>
<rect x="1197" y="523" width="11" height="2" fill="#FF0000"/>
<rect x="1216" y="491" width="2" height="24" fill="#000000"/>
<rect x="1212" y="502" width="11" height="2" fill="#000000"/>
<rect x="1230" y="487" width="2" height="29" fill="#FF0000"/>
<rect x="1226" y="514" width="11" height="2" fill="#FF0000"/>
<rect x="1245" y="491" width="2" height="125" fill="#000000"/>
<rect x="1241" y="494" width="11" height="2" fill="#000000"/>
<rect x="1259" y="455" width="2" height="60" fill="#000000"/>
<rect x="1255" y="466" width="11" height="2" fill="#000000"/>
<rect x="1274" y="439" width="2" height="41" fill="#000000"/>
<rect x="1270" y="462" width="11" height="2" fill="#000000"/>
<rect x="1289" y="463" width="2" height="29" fill="#FF0000"/>
<rect x="1285" y="490" width="11" height="2" fill="#FF0000"/>
<rect x="1303" y="428" width="2" height="83" fill="#000000"/>
<rect x="1299" y="466" width="11" height="2" fill="#000000"/>
<rect x="1318" y="428" width="2" height="40" fill="#000000"/>
<rect x="1314" y="435" width="11" height="2" fill="#000000"/>
<rect x="1332" y="424" width="2" height="31" fill="#FF0000"/>
<rect x="1328" y="450" width="11" height="2" fill="#FF0000"/>
<rect x="1347" y="416" width="2" height="44" fill="#000000"/>
<rect x="1343" y="423" width="11" height="2" fill="#000000"/>
<rect x="1361" y="383" width="2" height="40" fill="#000000"/>
<rect x="1357" y="404" width="11" height="2" fill="#000000"/>
<rect x="1376" y="380" width="2" height="30" fill="#000000"/>
<rect x="1372" y="393" width="11" height="2" fill="#000000"/>
<rect x="1391" y="372" width="2" height="34" fill="#000000"/>
<rect x="1387" y="386" width="11" height="2" fill="#000000"/>
<rect x="1405" y="383" width="2" height="104" fill="#FF0000"/>
<rect x="1401" y="404" width="11" height="2" fill="#FF0000"/>
<rect x="1420" y="402" width="2" height="27" fill="#FF0000"/>
<rect x="1416" y="416" width="11" height="2" fill="#FF0000"/>
<rect x="1434" y="387" width="2" height="31" fill="#000000"/>
<rect x="1430" y="404" width="11" height="2" fill="#000000"/>
<rect x="1449" y="344" width="2" height="62" fill="#000000"/>
<rect x="1445" y="364" width="11" height="2" fill="#000000"/>
<rect x="1463" y="344" width="2" height="37" fill="#FF0000"/>
<rect x="1459" y="371" width="11" height="2" fill="#FF0000"/>
<rect x="1478" y="317" width="2" height="64" fill="#000000"/>
<rect x="1474" y="333" width="11" height="2" fill="#000000"/>
<rect x="1493" y="313" width="2" height="25" fill="#000000"/>
<rect x="1489" y="329" width="11" height="2" fill="#000000"/>
<rect x="1507" y="317" width="2" height="35" fill="#FF0000"/>
<rect x="1503" y="343" width="11" height="2" fill="#FF0000"/>
<rect x="1522" y="334" width="2" height="47" fill="#FF0000"/>
<rect x="1518" y="361" width="11" height="2" fill="#FF0000"/>
<rect x="1536" y="292" width="2" height="99" fill="#000000"/>
<rect x="1532" y="292" width="11" height="2" fill="#000000"/>
<rect x="1551" y="277" width="2" height="41" fill="#FF0000"/>
<rect x="1547" y="312" width="11" height="2" fill="#FF0000"/>
<rect x="1565" y="307" width="2" height="28" fill="#FF0000"/>
<rect x="1561" y="333" width="11" height="2" fill="#FF0000"/>
<rect x="1580" y="303" width="2" height="42" fill="#000000"/>
<rect x="1576" y="312" width="11" height="2" fill="#000000"/>
<rect x="1595" y="297" width="2" height="28" fill="#FF0000"/>
<rect x="1591" y="323" width="11" height="2" fill="#FF0000"/>
<rect x="1609" y="324" width="2" height="86" fill="#FF0000"/>
<rect x="1605" y="408" width="11" height="2" fill="#FF0000"/>
<rect x="1624" y="380" width="2" height="53" fill="#FF0000"/>
<rect x="1620" y="431" width="11" height="2" fill="#FF0000"/>
<rect x="1638" y="368" width="2" height="65" fill="#000000"/>
<rect x="1634" y="368" width="11" height="2" fill="#000000"/>
<rect x="8" y="843" width="2" height="46" fill="#FF0000"/>
<rect x="22" y="849" width="2" height="40" fill="#FF0000"/>
<rect x="37" y="803" width="2" height="86" fill="#FF0000"/>
<rect x="51" y="871" width="2" height="18" fill="#000000"/>
<rect x="66" y="882" width="2" height="7" fill="#FF0000"/>
<rect x="80" y="869" width="2" height="20" fill="#000000"/>
<rect x="95" y="847" width="2" height="42" fill="#000000"/>
<rect x="109" y="871" width="2" height="18" fill="#FF0000"/>
<rect x="124" y="834" width="2" height="55" fill="#FF0000"/>
<rect x="139" y="855" width="2" height="34" fill="#000000"/>
<rect x="153" y="856" width="2" height="33" fill="#FF0000"/>
<rect x="168" y="864" width="2" height="25" fill="#FF0000"/>
<rect x="182" y="849" width="2" height="40" fill="#FF0000"/>
<rect x="197" y="841" width="2" height="48" fill="#000000"/>
<rect x="211" y="850" width="2" height="39" fill="#FF0000"/>
<rect x="226" y="785" width="2" height="104" fill="#FF0000"/>
<rect x="241" y="731" width="2" height="158" fill="#000000"/>
<rect x="255" y="828" width="2" height="61" fill="#000000"/>
<rect x="270" y="824" width="2" height="65" fill="#000000"/>
<rect x="284" y="845" width="2" height="44" fill="#000000"/>
<rect x="299" y="865" width="2" height="24" fill="#FF0000"/>
<rect x="313" y="841" width="2" height="48" fill="#000000"/>
<rect x="328" y="816" width="2" height="73" fill="#000000"/>
<rect x="343" y="823" width="2" height="66" fill="#FF0000"/>
<rect x="357" y="835" width="2" height="54" fill="#FF0000"/>
<rect x="372" y="818" width="2" height="71" fill="#FF0000"/>
<rect x="386" y="826" width="2" height="63" fill="#000000"/>
<rect x="401" y="846" width="2" height="43" fill="#000000"/>
<rect x="415" y="826" width="2" height="63" fill="#FF0000"/>
<rect x="430" y="795" width="2" height="94" fill="#000000"/>
<rect x="445" y="831" width="2" height="58" fill="#000000"/>
<rect x="459" y="793" width="2" height="96" fill="#000000"/>
<rect x="474" y="796" width="2" height="93" fill="#FF0000"/>
<rect x="488" y="776" width="2" height="113" fill="#000000"/>
<rect x="503" y="827" width="2" height="62" fill="#FF0000"/>
<rect x="517" y="821" width="2" height="68" fill="#000000"/>
<rect x="532" y="773" width="2" height="116" fill="#FF0000"/>
<rect x="547" y="798" width="2" height="91" fill="#000000"/>
<rect x="561" y="844" width="2" height="45" fill="#FF0000"/>
<rect x="576" y="832" width="2" height="57" fill="#FF0000"/>
<rect x="590" y="791" width="2" height="98" fill="#000000"/>
<rect x="605" y="781" width="2" height="108" fill="#000000"/>
<rect x="619" y="805" width="2" height="84" fill="#000000"/>
<rect x="634" y="798" width="2" height="91" fill="#FF0000"/>
<rect x="649" y="834" width="2" height="55" fill="#000000"/>
<rect x="663" y="803" width="2" height="86" fill="#000000"/>
<rect x="678" y="764" width="2" height="125" fill="#000000"/>
<rect x="692" y="804" width="2" height="85" fill="#FF0000"/>
<rect x="707" y="851" width="2" height="38" fill="#000000"/>
<rect x="721" y="759" width="2" height="130" fill="#FF0000"/>
<rect x="736" y="767" width="2" height="122" fill="#FF0000"/>
<rect x="751" y="820" width="2" height="69" fill="#000000"/>
<rect x="765" y="840" width="2" height="49" fill="#FF0000"/>
<rect x="780" y="778" width="2" height="111" fill="#000000"/>
<rect x="794" y="820" width="2" height="69" fill="#FF0000"/>
<rect x="809" y="806" width="2" height="83" fill="#FF0000"/>
<rect x="823" y="782" width="2" height="107" fill="#FF0000"/>
<rect x="838" y="782" width="2" height="107" fill="#FF0000"/>
<rect x="853" y="847" width="2" height="42" fill="#000000"/>
<rect x="867" y="863" width="2" height="26" fill="#FF0000"/>
<rect x="882" y="859" width="2" height="30" fill="#000000"/>
<rect x="896" y="845" width="2" height="44" fill="#000000"/>
<rect x="911" y="861" width="2" height="28" fill="#FF0000"/>
<rect x="925" y="859" width="2" height="30" fill="#FF0000"/>
<rect x="940" y="815" width="2" height="74" fill="#000000"/>
<rect x="954" y="868" width="2" height="21" fill="#000000"/>
<rect x="969" y="858" width="2" height="31" fill="#FF0000"/>
<rect x="984" y="814" width="2" height="75" fill="#FF0000"/>
<rect x="998" y="862" width="2" height="27" fill="#FF0000"/>
<rect x="1013" y="878" width="2" height="11" fill="#000000"/>
<rect x="1027" y="866" width="2" height="23" fill="#000000"/>
<rect x="1042" y="832" width="2" height="57" fill="#000000"/>
<rect x="1056" y="861" width="2" height="28" fill="#FF0000"/>
<rect x="1071" y="870" width="2" height="19" fill="#FF0000"/>
<rect x="1086" y="861" width="2" height="28" fill="#FF0000"/>
<rect x="1100" y="860" width="2" height="29" fill="#FF0000"/>
<rect x="1115" y="852" width="2" height="37" fill="#000000"/>
<rect x="1129" y="855" width="2" height="34" fill="#FF0000"/>
<rect x="1144" y="876" width="2" height="13" fill="#FF0000"/>
<rect x="1158" y="866" width="2" height="23" fill="#FF0000"/>
<rect x="1173" y="843" width="2" height="46" fill="#FF0000"/>
<rect x="1188" y="886" width="2" height="3" fill="#000000"/>
<rect x="1202" y="884" width="2" height="5" fill="#000000"/>
<rect x="1217" y="870" width="2" height="19" fill="#000000"/>
<rect x="1231" y="871" width="2" height="18" fill="#FF0000"/>
<rect x="1246" y="856" width="2" height="33" fill="#000000"/>
<rect x="1260" y="820" width="2" height="69" fill="#000000"/>
<rect x="1275" y="855" width="2" height="34" fill="#000000"/>
<rect x="1290" y="851" width="2" height="38" fill="#FF0000"/>
<rect x="1304" y="830" width="2" height="59" fill="#000000"/>
<rect x="1319" y="848" width="2" height="41" fill="#000000"/>
<rect x="1333" y="854" width="2" height="35" fill="#FF0000"/>
<rect x="1348" y="822" width="2" height="67" fill="#000000"/>
<rect x="1362" y="803" width="2" height="86" fill="#000000"/>
<rect x="1377" y="852" width="2" height="37" fill="#000000"/>
<rect x="1392" y="845" width="2" height="44" fill="#000000"/>
<rect x="1406" y="848" width="2" height="41" fill="#FF0000"/>
<rect x="1421" y="846" width="2" height="43" fill="#FF0000"/>
<rect x="1435" y="848" width="2" height="41" fill="#000000"/>
<rect x="1450" y="816" width="2" height="73" fill="#000000"/>
<rect x="1464" y="842" width="2" height="47" fill="#FF0000"/>
<rect x="1479" y="796" width="2" height="93" fill="#000000"/>
<rect x="1494" y="849" width="2" height="40" fill="#FF0000"/>
<rect x="1508" y="851" width="2" height="38" fill="#FF0000"/>
<rect x="1523" y="822" width="2" height="67" fill="#FF0000"/>
<rect x="1537" y="784" width="2" height="105" fill="#000000"/>
<rect x="1552" y="833" width="2" height="56" fill="#FF0000"/>
<rect x="1566" y="832" width="2" height="57" fill="#FF0000"/>
<rect x="1581" y="845" width="2" height="44" fill="#000000"/>
<rect x="1596" y="853" width="2" height="36" fill="#FF0000"/>
<rect x="1610" y="784" width="2" height="105" fill="#FF0000"/>
<rect x="1625" y="817" width="2" height="72" fill="#FF0000"/>
<rect x="1639" y="846" width="2" height="43" fill="#000000"/>
</g>
<polyline points="8.0,822.8 30.0,822.0 38.0,821.0 50.0,822.8 100.0,823.5 107.5,825.2 175.0,825.8 182.5,826.5 220.0,824.8 241.8,821.0 262.5,822.0 275.0,823.0 320.0,822.8 344.0,820.2 358.0,821.5 375.0,824.5 395.0,827.2 460.0,827.8 504.0,827.2 533.0,828.5 560.0,830.8 577.0,831.5 606.0,828.5 635.0,826.0 660.0,827.0 679.0,824.0 708.0,824.0 737.0,822.2 766.0,822.8 795.0,819.0 824.0,816.0 839.0,815.2 920.0,815.2 945.0,815.2 970.0,819.5 1007.5,820.2 1045.0,820.8 1095.0,822.8 1145.0,825.2 1175.0,826.5 1215.0,832.0 1257.5,834.0 1275.0,836.5 1310.0,837.0 1345.0,839.5 1387.0,840.2 1404.0,842.0 1441.5,842.0 1451.5,843.2 1466.5,845.0 1481.5,844.2 1504.0,846.2 1539.0,846.2 1561.5,848.2 1586.5,848.2 1611.5,846.2 1639.0,845.5" fill="none" stroke="#000" stroke-width="1" stroke-linejoin="round" shape-rendering="crispEdges" />
<path d="M35.2,108.5 h3.6 v6.4 h2.7 l-4.5,8.6 l-4.5,-8.6 h2.7 z" fill="#FFFF00"/>
<path d="M734.2,251 h3.6 v6.4 h2.7 l-4.5,8.6 l-4.5,-8.6 h2.7 z" fill="#FFFF00"/>
<path d="M982.2,476 h3.6 v6.4 h2.7 l-4.5,8.6 l-4.5,-8.6 h2.7 z" fill="#FFFF00"/>
<path d="M1098.2,468.5 h3.6 v6.4 h2.7 l-4.5,8.6 l-4.5,-8.6 h2.7 z" fill="#FFFF00"/>
<path d="M1623.2,361 h3.6 v6.4 h2.7 l-4.5,8.6 l-4.5,-8.6 h2.7 z" fill="#FFFF00"/>
<path d="M678,261.8 l4.5,9 h-2.8 v6.2 h-3.4 v-6.2 h-2.8 z" fill="#008000"/>
<path d="M1362,424 l4.5,9 h-2.8 v6.2 h-3.4 v-6.2 h-2.8 z" fill="#008000"/>
<path d="M1537,395 l4.5,9 h-2.8 v6.2 h-3.4 v-6.2 h-2.8 z" fill="#008000"/>
<polyline points="619.6,242.0 619.6,245.1 619.7,248.2 619.8,251.3 620.0,254.4 620.2,257.4 620.4,260.5 620.7,263.6 621.0,266.7 621.3,269.7 621.6,272.8 622.0,275.9 622.5,278.9 622.9,282.0 623.4,285.1 623.9,288.1 624.5,291.2 625.1,294.2 625.7,297.3 626.4,300.3 627.1,303.4 627.8,306.4 628.6,309.5 629.4,312.5 630.2,315.5 631.1,318.5 632.0,321.5 632.9,324.5 633.9,327.6 634.9,330.6 635.9,333.5 637.0,336.5 638.1,339.5 639.2,342.5 640.4,345.5 641.6,348.4 642.8,351.4 644.1,354.3 645.4,357.3 646.7,360.2 648.1,363.1 649.5,366.0 650.9,369.0 652.4,371.9 653.9,374.8 655.4,377.6 657.0,380.5 658.5,383.4 660.2,386.3 661.8,389.1 663.5,391.9 665.2,394.8 667.0,397.6 668.7,400.4 670.5,403.2 672.4,406.0 674.3,408.8 676.2,411.6 678.1,414.3 680.1,417.1 682.0,419.8 684.1,422.5 686.1,425.3 688.2,428.0 690.3,430.7 692.5,433.3 694.6,436.0 696.8,438.7 699.1,441.3 701.3,443.9 703.6,446.6 705.9,449.2 708.3,451.8 710.7,454.3 713.1,456.9 715.5,459.5 718.0,462.0 720.5,464.5 723.0,467.1 725.5,469.5 728.1,472.0 730.7,474.5 733.3,477.0 736.0,479.4 738.7,481.8 741.4,484.2 744.1,486.6 746.9,489.0 749.7,491.4 752.5,493.7 755.3,496.1 758.2,498.4 761.1,500.7 764.0,503.0 767.0,505.2 769.9,507.5 772.9,509.7 776.0,511.9 779.0,514.1 782.1,516.3 785.2,518.5 788.3,520.6 791.4,522.8 794.6,524.9 797.8,527.0 801.0,529.1 804.2,531.1 807.5,533.2 810.7,535.2 814.0,537.2 817.4,539.2 820.7,541.2 824.1,543.1 827.5,545.1 830.9,547.0 834.3,548.9 837.8,550.7 841.2,552.6 844.7,554.4 848.2,556.3 851.8,558.1 855.3,559.8 858.9,561.6 862.5,563.3 866.1,565.1 869.7,566.8 873.4,568.4 877.0,570.1 880.7,571.7 884.4,573.3 888.2,574.9 891.9,576.5 895.7,578.1 899.4,579.6 903.2,581.1 907.0,582.6 910.9,584.1 914.7,585.5 918.6,587.0 922.4,588.4 926.3,589.7 930.2,591.1 934.1,592.4 938.1,593.8 942.0,595.1 946.0,596.3 949.9,597.6 953.9,598.8 957.9,600.0 962.0,601.2 966.0,602.4 970.0,603.5 974.1,604.6 978.2,605.7 982.2,606.8 986.3,607.9 990.4,608.9 994.5,609.9 998.7,610.9 1002.8,611.8 1006.9,612.8 1011.1,613.7 1015.3,614.6 1019.4,615.4 1023.6,616.3 1027.8,617.1 1032.0,617.9 1036.2,618.7 1040.5,619.4 1044.7,620.1 1048.9,620.8 1053.2,621.5 1057.4,622.2 1061.7,622.8 1065.9,623.4 1070.2,624.0 1074.5,624.6 1078.8,625.1 1083.1,625.6 1087.4,626.1 1091.7,626.6 1096.0,627.0 1100.3,627.4 1104.6,627.8 1108.9,628.2 1113.2,628.5 1117.6,628.8 1121.9,629.1 1126.2,629.4 1130.6,629.7 1134.9,629.9 1139.3,630.1 1143.6,630.3 1147.9,630.4 1152.3,630.5 1156.6,630.6 1161.0,630.7 1165.3,630.8 1169.7,630.8 1174.0,630.8 1178.4,630.8 1182.7,630.7 1187.1,630.7 1191.4,630.6 1195.8,630.5 1200.1,630.3 1204.5,630.2 1208.8,630.0 1213.2,629.8 1217.5,629.5 1221.8,629.3 1226.2,629.0 1230.5,628.7 1234.8,628.3 1239.1,628.0 1243.5,627.6 1247.8,627.2 1252.1,626.8 1256.4,626.3 1260.7,625.8 1265.0,625.3 1269.3,624.8 1273.6,624.3 1277.8,623.7 1282.1,623.1 1286.4,622.5 1290.6,621.8 1294.9,621.2 1299.1,620.5 1303.3,619.7 1307.6,619.0 1311.8,618.2 1316.0,617.5 1320.2,616.7 1324.4,615.8 1328.6,615.0 1332.7,614.1 1336.9,613.2 1341.0,612.3 1345.2,611.3 1349.3,610.3 1353.4,609.3 1357.5,608.3 1361.6,607.3 1365.7,606.2 1369.8,605.1 1373.8,604.0 1377.9,602.9 1381.9,601.7 1385.9,600.6 1390.0,599.4 1393.9,598.2 1397.9,596.9 1401.9,595.6 1405.9,594.4 1409.8,593.1 1413.7,591.7 1417.6,590.4 1421.5,589.0 1425.4,587.6 1429.3,586.2 1433.1,584.7 1436.9,583.3 1440.8,581.8 1444.6,580.3 1448.3,578.8 1452.1,577.2 1455.9,575.7 1459.6,574.1 1463.3,572.5 1467.0,570.8 1470.7,569.2 1474.3,567.5 1478.0,565.8 1481.6,564.1 1485.2,562.4 1488.8,560.6 1492.3,558.9 1495.9,557.1 1499.4,555.3 1502.9,553.4 1506.4,551.6 1509.8,549.7 1513.3,547.8 1516.7,545.9 1520.1,544.0 1523.5,542.1 1526.8,540.1 1530.2,538.1 1533.5,536.1 1536.8,534.1 1540.0,532.1 1543.3,530.0 1546.5,527.9 1549.7,525.9 1552.9,523.8 1556.0,521.6 1559.1,519.5 1562.2,517.3 1565.3,515.1 1568.4,513.0 1571.4,510.7 1574.4,508.5 1577.4,506.3 1580.4,504.0 1583.3,501.7 1586.2,499.4 1589.1,497.1 1591.9,494.8 1594.8,492.5 1597.6,490.1 1600.3,487.7 1603.1,485.3 1605.8,482.9 1608.5,480.5 1611.2,478.1 1613.8,475.6 1616.4,473.2 1619.0,470.7 1621.6,468.2 1624.1,465.7 1626.6,463.2 1629.1,460.6 1631.5,458.1 1634.0,455.5 1636.3,452.9 1638.7,450.4 1641.0,447.8 1643.3,445.1 1645.6,442.5 1647.9,439.9 1650.1,437.2 1652.3,434.6 1654.4,431.9 1656.6,429.2 1658.6,426.5 1660.7,423.8 1662.8,421.1 1664.8,418.3 1666.7,415.6 1668.7,412.8 1670.6,410.1 1672.5,407.3 1674.3,404.5 1676.2,401.7 1678.0,398.9 1679.7,396.1 1681.4,393.2 1683.1,390.4 1684.8,387.6 1686.4,384.7 1688.0,381.8 1689.6,379.0 1691.2,376.1 1692.7,373.2 1694.1,370.3 1695.6,367.4 1697.0,364.5 1698.4,361.5 1699.7,358.6 1701.0,355.7 1702.3,352.7 1703.6,349.8 1704.8,346.8 1706.0,343.8 1707.1,340.9 1708.2,337.9 1709.3,334.9 1710.3,331.9 1711.4,328.9 1712.3,325.9 1713.3,322.9 1714.2,319.9 1715.1,316.9 1715.9,313.9 1716.8,310.8 1717.5,307.8 1718.3,304.8 1719.0,301.7 1719.7,298.7 1720.3,295.6 1720.9,292.6 1721.5,289.5 1722.1,286.5 1722.6,283.4 1723.1,280.3 1723.5,277.3 1723.9,274.2 1724.3,271.1 1724.6,268.1 1724.9,265.0 1725.2,261.9 1725.4,258.8 1725.6,255.8 1725.8,252.7 1726.0,249.6 1726.1,246.5 1726.1,243.4 1726.2,240.4 1726.2,237.3 1726.1,234.2" fill="none" stroke="#000" stroke-width="2" stroke-linejoin="round" shape-rendering="crispEdges" stroke-dasharray="2 2"/>
<text x="118.3" y="63" class="ser" transform="translate(118.3,63) skewX(-8) translate(-118.3,-63)" style="font-size:25.5px;font-weight:bold;font-style:italic" fill="#32CD32">29</text>
<text x="119" y="97.8" class="ser" textLength="58" lengthAdjust="spacing" style="font-size:14px;font-weight:bold;white-space:pre" fill="#32CD32" xml:space="preserve">2  (7.4%)</text>
<g shape-rendering="crispEdges">
<rect x="2" y="0" width="1860" height="3" fill="#FFFFFF"/>
<rect x="3" y="1" width="1858" height="1" fill="#000"/>
<rect x="1800" y="1" width="1.25" height="893" fill="#000" shape-rendering="auto"/>
<rect x="3" y="697" width="1798" height="1" fill="#000"/>
<rect x="3" y="714" width="1858" height="1.2" fill="#000" shape-rendering="auto"/>
<rect x="1801" y="8.8" width="4" height="1.4" fill="#000" shape-rendering="auto"/>
<rect x="1801" y="33.8" width="4" height="1.4" fill="#000" shape-rendering="auto"/>
<rect x="1801" y="59.8" width="4" height="1.4" fill="#000" shape-rendering="auto"/>
<rect x="1801" y="85.8" width="4" height="1.4" fill="#000" shape-rendering="auto"/>
<rect x="1801" y="112.8" width="4" height="1.4" fill="#000" shape-rendering="auto"/>
<rect x="1801" y="140.8" width="4" height="1.4" fill="#000" shape-rendering="auto"/>
<rect x="1801" y="168.8" width="4" height="1.4" fill="#000" shape-rendering="auto"/>
<rect x="1801" y="197.8" width="4" height="1.4" fill="#000" shape-rendering="auto"/>
<rect x="1801" y="228.8" width="4" height="1.4" fill="#000" shape-rendering="auto"/>
<rect x="1801" y="260.8" width="4" height="1.4" fill="#000" shape-rendering="auto"/>
<rect x="1801" y="292.8" width="4" height="1.4" fill="#000" shape-rendering="auto"/>
<rect x="1801" y="326.8" width="4" height="1.4" fill="#000" shape-rendering="auto"/>
<rect x="1801" y="361.8" width="4" height="1.4" fill="#000" shape-rendering="auto"/>
<rect x="1801" y="397.8" width="4" height="1.4" fill="#000" shape-rendering="auto"/>
<rect x="1801" y="435.8" width="4" height="1.4" fill="#000" shape-rendering="auto"/>
<rect x="1801" y="474.8" width="4" height="1.4" fill="#000" shape-rendering="auto"/>
<rect x="1801" y="514.8" width="4" height="1.4" fill="#000" shape-rendering="auto"/>
<rect x="1801" y="557.8" width="4" height="1.4" fill="#000" shape-rendering="auto"/>
<rect x="1801" y="602.8" width="4" height="1.4" fill="#000" shape-rendering="auto"/>
<rect x="1801" y="648.8" width="4" height="1.4" fill="#000" shape-rendering="auto"/>
<rect x="1801" y="756.8" width="4" height="1.4" fill="#000" shape-rendering="auto"/>
<rect x="1801" y="793.8" width="4" height="1.4" fill="#000" shape-rendering="auto"/>
<rect x="1801" y="831.8" width="4" height="1.4" fill="#000" shape-rendering="auto"/>
<rect x="1801" y="868.8" width="4" height="1.4" fill="#000" shape-rendering="auto"/>
<rect x="37" y="698" width="1" height="5" fill="#000"/>
<rect x="51" y="698" width="1" height="5" fill="#000"/>
<rect x="124" y="698" width="1" height="5" fill="#000"/>
<rect x="182" y="698" width="1" height="5" fill="#000"/>
<rect x="255" y="698" width="1" height="5" fill="#000"/>
<rect x="328" y="698" width="1" height="5" fill="#000"/>
<rect x="372" y="698" width="1" height="5" fill="#000"/>
<rect x="445" y="698" width="1" height="5" fill="#000"/>
<rect x="517" y="698" width="1" height="5" fill="#000"/>
<rect x="590" y="698" width="1" height="5" fill="#000"/>
<rect x="619" y="698" width="1" height="5" fill="#000"/>
<rect x="663" y="698" width="1" height="5" fill="#000"/>
<rect x="736" y="698" width="1" height="5" fill="#000"/>
<rect x="809" y="698" width="1" height="5" fill="#000"/>
<rect x="882" y="698" width="1" height="5" fill="#000"/>
<rect x="940" y="698" width="1" height="5" fill="#000"/>
<rect x="954" y="698" width="1" height="5" fill="#000"/>
<rect x="1027" y="698" width="1" height="5" fill="#000"/>
<rect x="1100" y="698" width="1" height="5" fill="#000"/>
<rect x="1173" y="698" width="1" height="5" fill="#000"/>
<rect x="1246" y="698" width="1" height="5" fill="#000"/>
<rect x="1319" y="698" width="1" height="5" fill="#000"/>
<rect x="1392" y="698" width="1" height="5" fill="#000"/>
<rect x="1464" y="698" width="1" height="5" fill="#000"/>
<rect x="1537" y="698" width="1" height="5" fill="#000"/>
<rect x="1581" y="698" width="1" height="5" fill="#000"/>
</g>
<text x="1857" y="13.2" text-anchor="end" fill="#000">39</text>
<text x="1857" y="38.2" text-anchor="end" fill="#000">38</text>
<text x="1857" y="64.2" text-anchor="end" fill="#000">37</text>
<text x="1857" y="90.2" text-anchor="end" fill="#000">36</text>
<text x="1857" y="117.2" text-anchor="end" fill="#000">35</text>
<text x="1857" y="145.2" text-anchor="end" fill="#000">34</text>
<text x="1857" y="173.2" text-anchor="end" fill="#000">33</text>
<text x="1857" y="202.2" text-anchor="end" fill="#000">32</text>
<text x="1857" y="233.2" text-anchor="end" fill="#000">31</text>
<text x="1857" y="265.2" text-anchor="end" fill="#000">30</text>
<text x="1857" y="297.2" text-anchor="end" fill="#000">29</text>
<text x="1857" y="331.2" text-anchor="end" fill="#000">28</text>
<text x="1857" y="366.2" text-anchor="end" fill="#000">27</text>
<text x="1857" y="402.2" text-anchor="end" fill="#000">26</text>
<text x="1857" y="440.2" text-anchor="end" fill="#000">25</text>
<text x="1857" y="479.2" text-anchor="end" fill="#000">24</text>
<text x="1857" y="519.2" text-anchor="end" fill="#000">23</text>
<text x="1857" y="562.2" text-anchor="end" fill="#000">22</text>
<text x="1857" y="607.2" text-anchor="end" fill="#000">21</text>
<text x="1857" y="653.2" text-anchor="end" fill="#000">20</text>
<text x="1857" y="761.2" text-anchor="end" fill="#000">20M</text>
<text x="1857" y="798.2" text-anchor="end" fill="#000">15M</text>
<text x="1857" y="873.2" text-anchor="end" fill="#000">5M</text>
<text x="39.5" y="709.3" style="font-weight:bold;" fill="#000">Apr</text>
<text x="126.5" y="709.3" style="" fill="#000">12</text>
<text x="184.5" y="709.3" style="" fill="#000">18</text>
<text x="257.5" y="709.3" style="" fill="#000">25</text>
<text x="330.5" y="709.3" style="font-weight:bold;" fill="#000">May</text>
<text x="374.5" y="709.3" style="" fill="#000">9</text>
<text x="447.5" y="709.3" style="" fill="#000">16</text>
<text x="519.5" y="709.3" style="" fill="#000">23</text>
<text x="592.5" y="709.3" style="" fill="#000">30</text>
<text x="621.5" y="709.3" style="font-weight:bold;" fill="#000">Jun</text>
<text x="665.5" y="709.3" style="" fill="#000">6</text>
<text x="738.5" y="709.3" style="" fill="#000">13</text>
<text x="811.5" y="709.3" style="" fill="#000">20</text>
<text x="884.5" y="709.3" style="" fill="#000">27</text>
<text x="942.5" y="709.3" style="font-weight:bold;" fill="#000">Jul</text>
<text x="1029.5" y="709.3" style="" fill="#000">11</text>
<text x="1102.5" y="709.3" style="" fill="#000">18</text>
<text x="1175.5" y="709.3" style="" fill="#000">25</text>
<text x="1248.5" y="709.3" style="font-weight:bold;" fill="#000">Aug</text>
<text x="1321.5" y="709.3" style="" fill="#000">8</text>
<text x="1394.5" y="709.3" style="" fill="#000">15</text>
<text x="1466.5" y="709.3" style="" fill="#000">22</text>
<text x="1539.5" y="709.3" style="" fill="#000">29</text>
<text x="1583.5" y="709.3" style="font-weight:bold;" fill="#000">Sep</text>
<rect x="1808" y="287" width="46" height="15" fill="#00FF00"/>
<text x="1811.7" y="298.8" fill="#000" style="font-size:12.35px">28.484</text>
<rect x="1808" y="302" width="53" height="15" fill="#FF00FF"/>
<text x="1811.7" y="313.8" fill="#000" style="font-size:12.35px">28.1035</text>
<rect x="1808" y="317" width="39" height="15" fill="#40E0D0"/>
<text x="1811.7" y="328.8" fill="#000" style="font-size:12.35px">27.38</text>
<rect x="1808" y="332" width="39" height="15" fill="#FF0000"/>
<text x="1811.7" y="343.8" fill="#000" style="font-size:12.35px">26.92</text>
<rect x="1808" y="347" width="39" height="15" fill="#008000"/>
<text x="1811.7" y="358.8" fill="#FFF" style="font-size:12.35px">26.82</text>
<rect x="1808" y="377" width="53" height="15" fill="#000"/>
<text x="1811.7" y="388.8" fill="#FFF" style="font-size:12.35px">26.6039</text>
<path d="M1801,369.2 L1808.2,362.3 V376.2 z" fill="#000"/>
<rect x="1808" y="362" width="32" height="15" fill="#000"/>
<text x="1811.7" y="373.8" fill="#FFF" style="font-size:12.35px">26.8</text>
<rect x="1808" y="431" width="46" height="15" fill="#0000FF"/>
<text x="1811.7" y="442.8" fill="#FFF" style="font-size:12.35px">24.944</text>
<rect x="1808" y="824" width="53" height="15" fill="#000"/>
<text x="1809.7" y="835.8" fill="#FFF" style="font-size:12.35px">8,197,616</text>
<path d="M1801,846.2 L1808.2,839.3 V853.2 z" fill="#000"/>
<rect x="1808" y="839" width="53" height="15" fill="#000"/>
<text x="1809.7" y="850.8" fill="#FFF" style="font-size:12.35px">8,085,900</text>
<rect x="7" y="3" width="1078" height="15" fill="#FFFFFF"/>
<text x="7.1000000000000005" y="15" fill="#000" textLength="60.0" lengthAdjust="spacing" style="font-size:12.2px">PVS - Daily</text>
<text x="69.7" y="15" fill="#000" textLength="344.2" lengthAdjust="spacing" style="font-size:12.2px">8/29/2022 00:00:00 Open 26.7, Hi 29, Lo 26.2, Close 29 (7.4%)</text>
<text x="415.4" y="15" fill="#FF0000" textLength="46.9" lengthAdjust="spacing" style="font-size:12.2px">MA3(20)</text>
<text x="464.4" y="15" fill="#000" textLength="41.2" lengthAdjust="spacing" style="font-size:12.2px">= 25.97,</text>
<text x="510.4" y="15" fill="#0000FF" textLength="46.2" lengthAdjust="spacing" style="font-size:12.2px">MA7(50)</text>
<text x="559.4" y="15" fill="#000" textLength="42.9" lengthAdjust="spacing" style="font-size:12.2px">= 24.56,</text>
<text x="606.1" y="15" fill="#00FF00" textLength="52.8" lengthAdjust="spacing" style="font-size:12.2px">MA4(150)</text>
<text x="661.1" y="15" fill="#000" textLength="43.5" lengthAdjust="spacing" style="font-size:12.2px">= 28.55,</text>
<text x="707.6999999999999" y="15" fill="#FF00FF" textLength="52.9" lengthAdjust="spacing" style="font-size:12.2px">MA6(200)</text>
<text x="762.6999999999999" y="15" fill="#000" textLength="44.6" lengthAdjust="spacing" style="font-size:12.2px">= 28.19,</text>
<text x="810.1" y="15" fill="#40E0D0" textLength="45.5" lengthAdjust="spacing" style="font-size:12.2px">MA8(10)</text>
<text x="857.6999999999999" y="15" fill="#000" textLength="139.6" lengthAdjust="spacing" style="font-size:12.2px">= 26.99, EMA(21) = 26.22,</text>
<text x="1000.4" y="15" fill="#008000" textLength="39.5" lengthAdjust="spacing" style="font-size:12.2px">MA9(5)</text>
<text x="1042.1000000000001" y="15" fill="#000" textLength="40.8" lengthAdjust="spacing" style="font-size:12.2px">= 27.84</text>
<rect x="7" y="716" width="343" height="15" fill="#FFFFFF"/>
<text x="7.2" y="728" fill="#000" textLength="340" lengthAdjust="spacing" style="font-size:12.2px">PVS - Volume = 16,391,900.00, MA(Volume,50) = 8,114,450.00</text>
<rect x="0" y="0" width="2" height="919" fill="#2F3E5C"/>
<rect x="2" y="0" width="1" height="912" fill="#FBEAB0"/>
<rect x="1861" y="0" width="1.3" height="912.6" fill="#FBE9A8"/>
<rect x="1862.3" y="0" width="5.5" height="919" fill="#2F3E5C"/>
<rect x="1867.8" y="0" width="4.2" height="530" fill="#C0CADD"/>
<rect x="1867.8" y="530" width="4.2" height="218" fill="#B2BDD5"/>
<rect x="1867.8" y="748" width="4.2" height="171" fill="#9AA7C4"/>
<rect x="3" y="1" width="1858" height="1" fill="#000"/>
<rect x="2" y="894" width="1859" height="17" fill="#F0F0F0"/>
<rect x="2" y="911" width="1860" height="1.8" fill="#FBE9A8"/>
<rect x="0" y="912.6" width="1867.8" height="7" fill="#2F3E5C"/>
<rect x="3.5" y="894.5" width="15.0" height="16" fill="#F0F0F0" stroke="#B4B4B4" stroke-width="1"/>
<rect x="18.5" y="894.5" width="16.0" height="16" fill="#F0F0F0" stroke="#B4B4B4" stroke-width="1"/>
<rect x="34.5" y="894.5" width="16.0" height="16" fill="#F0F0F0" stroke="#B4B4B4" stroke-width="1"/>
<rect x="50.5" y="894.5" width="16.0" height="16" fill="#F0F0F0" stroke="#B4B4B4" stroke-width="1"/>
<rect x="7.6" y="898" width="1.5" height="9" fill="#8A8A8A"/><path d="M15.6,898 v9 l-5.6,-4.5 z" fill="#8A8A8A"/>
<path d="M31.6,898 v9 l-5.6,-4.5 z" fill="#8A8A8A"/>
<path d="M40.2,898 v9 l5.6,-4.5 z" fill="#000"/>
<path d="M56,898 v9 l5.6,-4.5 z" fill="#000"/><rect x="61.8" y="898" width="1.5" height="9" fill="#000"/>
<path d="M134,894.7 H504.7" fill="none" stroke="#8E8E8E" stroke-width="1"/>
<path d="M128.8,904.8 L132.5,910.3" fill="none" stroke="#8E8E8E" stroke-width="1"/>
<path d="M132.5,910.3 H179.6 L182.6,903.8" fill="none" stroke="#8E8E8E" stroke-width="1"/>
<path d="M178.7,894.7 L185.5,910.3" fill="none" stroke="#8E8E8E" stroke-width="1"/>
<path d="M185.5,910.3 H232.6 L235.6,903.8" fill="none" stroke="#8E8E8E" stroke-width="1"/>
<path d="M231.7,894.7 L238.5,910.3" fill="none" stroke="#8E8E8E" stroke-width="1"/>
<path d="M238.5,910.3 H285.6 L288.6,903.8" fill="none" stroke="#8E8E8E" stroke-width="1"/>
<path d="M284.7,894.7 L291.5,910.3" fill="none" stroke="#8E8E8E" stroke-width="1"/>
<path d="M291.5,910.3 H338.6 L341.6,903.8" fill="none" stroke="#8E8E8E" stroke-width="1"/>
<path d="M337.7,894.7 L344.5,910.3" fill="none" stroke="#8E8E8E" stroke-width="1"/>
<path d="M344.5,910.3 H391.6 L394.6,903.8" fill="none" stroke="#8E8E8E" stroke-width="1"/>
<path d="M390.7,894.7 L397.5,910.3" fill="none" stroke="#8E8E8E" stroke-width="1"/>
<path d="M397.5,910.3 H444.6 L447.6,903.8" fill="none" stroke="#8E8E8E" stroke-width="1"/>
<path d="M443.7,894.7 L450.5,910.3" fill="none" stroke="#8E8E8E" stroke-width="1"/>
<path d="M450.5,910.3 H497.6 L504.7,894.7" fill="none" stroke="#8E8E8E" stroke-width="1"/>
<path d="M67.9,894.2 L74.6,910.3 H126.6 L134,894.2 z" fill="#FFFFFF"/>
<path d="M67.9,894.7 L74.6,910.3 H126.6 L134,894.7" fill="none" stroke="#8E8E8E" stroke-width="1"/>
<text x="78.6" y="906" textLength="42.6" lengthAdjust="spacingAndGlyphs" style="font-size:12.5px;font-weight:bold" fill="#000">Sheet 1</text>
<text x="136.6" y="906" textLength="38.4" lengthAdjust="spacingAndGlyphs" style="font-size:12.5px" fill="#6E6E78">Sheet 2</text>
<text x="189.6" y="906" textLength="38.4" lengthAdjust="spacingAndGlyphs" style="font-size:12.5px" fill="#6E6E78">Sheet 3</text>
<text x="242.6" y="906" textLength="38.4" lengthAdjust="spacingAndGlyphs" style="font-size:12.5px" fill="#6E6E78">Sheet 4</text>
<text x="295.6" y="906" textLength="38.4" lengthAdjust="spacingAndGlyphs" style="font-size:12.5px" fill="#6E6E78">Sheet 5</text>
<text x="348.6" y="906" textLength="38.4" lengthAdjust="spacingAndGlyphs" style="font-size:12.5px" fill="#6E6E78">Sheet 6</text>
<text x="401.6" y="906" textLength="38.4" lengthAdjust="spacingAndGlyphs" style="font-size:12.5px" fill="#6E6E78">Sheet 7</text>
<text x="454.6" y="906" textLength="38.4" lengthAdjust="spacingAndGlyphs" style="font-size:12.5px" fill="#6E6E78">Sheet 8</text>
<path d="M498,910.3 H556.7" fill="none" stroke="#A0A0A0" stroke-width="1"/>
<path d="M522.6,894.5 V910.5" fill="none" stroke="#A0A0A0" stroke-width="1"/>
<path d="M523.6,895 V910" fill="none" stroke="#FFFFFF" stroke-width="1"/>
<path d="M539.8,894.5 V910.5" fill="none" stroke="#A0A0A0" stroke-width="1"/>
<path d="M540.8,895 V910" fill="none" stroke="#FFFFFF" stroke-width="1"/>
<path d="M556.7,894.5 V910.5" fill="none" stroke="#A0A0A0" stroke-width="1"/>
<path d="M557.7,895 V910" fill="none" stroke="#FFFFFF" stroke-width="1"/>
<rect x="511" y="901.5" width="7.5" height="5" fill="#000"/><path d="M512.3,901.5 v-2 a2.3,2.3 0 0 1 4.6,0 v0.6" fill="none" stroke="#000" stroke-width="1.2"/>
<path d="M525.6,904.6 l2.9,-3.4 l2.9,3.4 z" fill="#000"/><text x="531.3" y="906.3" style="font-size:9px" fill="#000">S</text>
<path d="M543,904.6 l2.9,-3.4 l2.9,3.4 z" fill="#000"/><text x="548.3" y="906.2" style="font-size:9.5px;font-weight:bold;font-family:'Liberation Mono',monospace" fill="#000">I</text>
<path d="M567.3,899 l-4.2,3.6 l4.2,3.6" fill="none" stroke="#484848" stroke-width="2.1"/>
<rect x="1795" y="895.3" width="49" height="14.4" fill="#CDCDCD"/>
<path d="M1850.6,899.3 l3.9,3.4 l-3.9,3.4" fill="none" stroke="#484848" stroke-width="2"/>
</svg></body></html>
